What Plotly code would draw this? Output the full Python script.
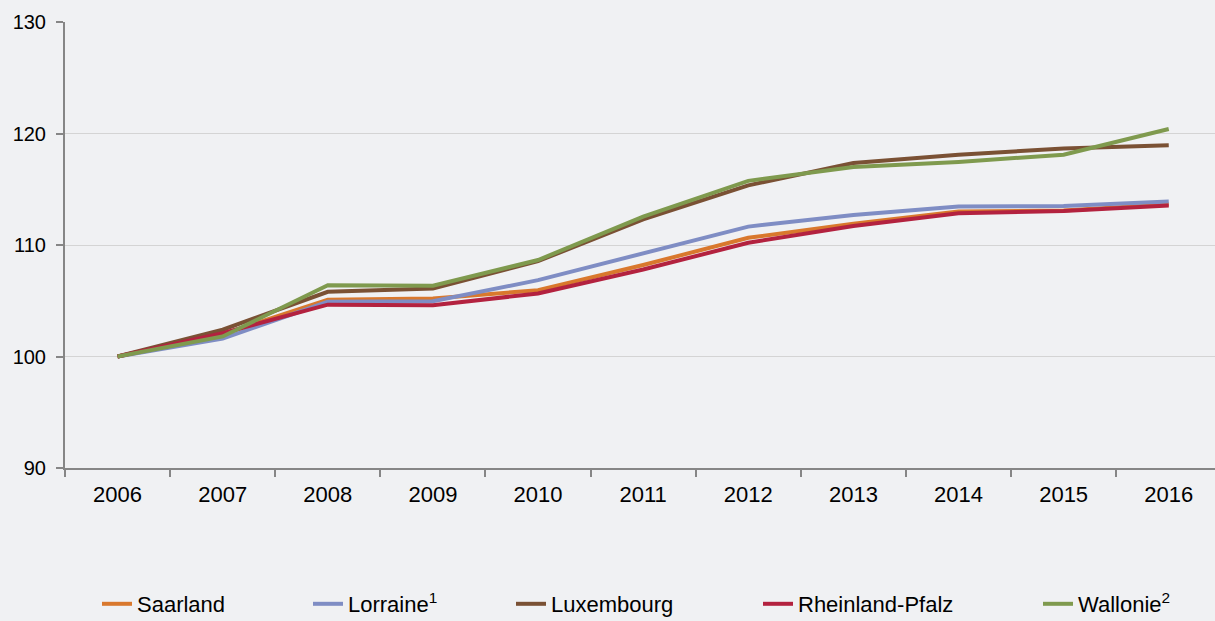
import plotly.graph_objects as go

years = ["2006", "2007", "2008", "2009", "2010", "2011", "2012", "2013", "2014", "2015", "2016"]
saarland = [100, 102.0, 105.1, 105.2, 105.95, 108.2, 110.65, 111.9, 113.0, 113.1, 113.65]
lorraine = [100, 101.6, 104.9, 104.95, 106.85, 109.25, 111.65, 112.7, 113.45, 113.5, 113.9]
luxembourg = [100, 102.4, 105.8, 106.1, 108.55, 112.3, 115.35, 117.35, 118.1, 118.65, 118.95]
rheinland = [100, 102.1, 104.65, 104.6, 105.65, 107.8, 110.2, 111.7, 112.85, 113.05, 113.55]
wallonie = [100, 101.8, 106.4, 106.35, 108.65, 112.55, 115.75, 117.0, 117.45, 118.1, 120.4]

names = ["Saarland", "Lorraine<sup>1</sup>", "Luxembourg", "Rheinland-Pfalz", "Wallonie<sup>2</sup>"]
series = [saarland, lorraine, luxembourg, rheinland, wallonie]
colors = ["#D9782D", "#7F8DC4", "#7A5134", "#B3223F", "#7F9A4E"]
legend_text_x = [137, 348, 551, 798, 1078]

W, H = 1215, 621
ml, mr, mt, mb = 65, 0, 22, 153
pw, ph = W - ml - mr, H - mt - mb

fig = go.Figure()
for i, (n, s, c) in enumerate(zip(names, series, colors)):
    lg = "legend" if i == 0 else f"legend{i+1}"
    fig.add_trace(go.Scatter(x=years, y=s, name=n, mode="lines",
                             line=dict(color=c, width=4), legend=lg))

layout_legends = {}
for i, tx in enumerate(legend_text_x):
    key = "legend" if i == 0 else f"legend{i+1}"
    layout_legends[key] = dict(
        x=(tx - 40 - ml) / pw, y=-(604 - (H - mb)) / ph,
        xref="paper", yref="paper", xanchor="left", yanchor="middle",
        orientation="h", bgcolor="rgba(0,0,0,0)",
        font=dict(family="Liberation Sans, Arial", size=22, color="#000000"),
        itemwidth=30,
    )

fig.update_layout(
    width=W, height=H,
    margin=dict(l=ml, r=mr, t=mt, b=mb, autoexpand=False),
    paper_bgcolor="#F0F1F3", plot_bgcolor="#F0F1F3",
    font=dict(family="Liberation Sans, Arial", size=20, color="#000000"),
    showlegend=True,
    xaxis=dict(type="category", range=[-0.5, 10.44], tickson="boundaries",
               ticks="outside", ticklen=7, tickcolor="#868686", tickwidth=1.5,
               showline=True, linecolor="#868686", linewidth=2,
               showgrid=False, zeroline=False, ticklabelstandoff=6,
               tickfont=dict(size=22, color="#000000")),
    yaxis=dict(range=[90, 130], tickvals=[90, 100, 110, 120, 130],
               ticks="outside", ticklen=7, tickcolor="#868686", tickwidth=1.5,
               showline=True, linecolor="#868686", linewidth=2,
               showgrid=True, gridcolor="#D4D4D4", gridwidth=1, zeroline=False,
               ticklabelstandoff=6,
               tickfont=dict(size=20, color="#000000")),
    **layout_legends,
)

fig.write_html("out.html", config={"displayModeBar": False},
               post_script="document.body.style.margin='0';")
